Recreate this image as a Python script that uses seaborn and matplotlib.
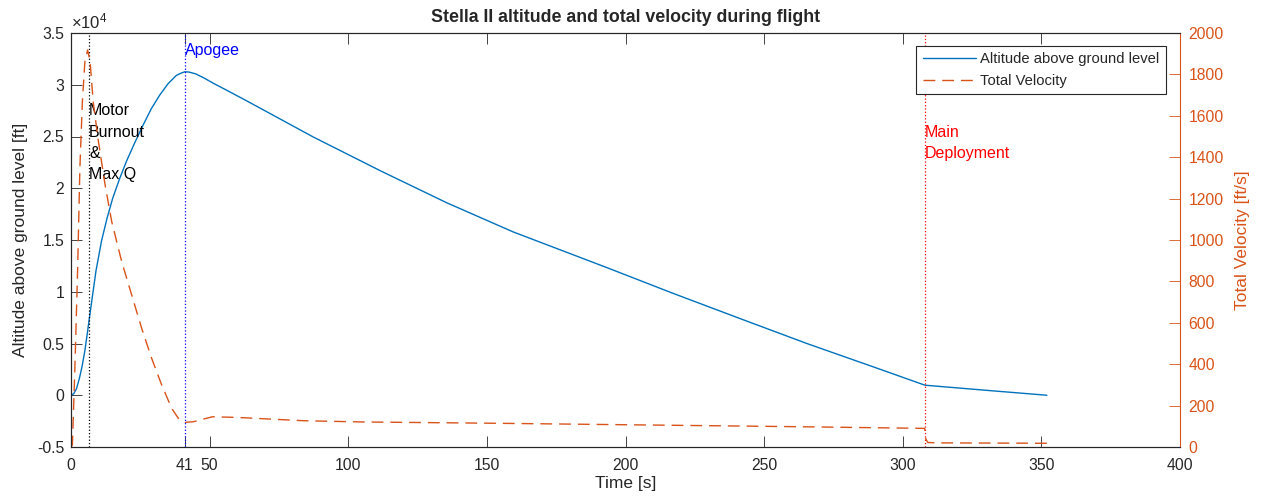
import matplotlib
matplotlib.use("Agg")
import matplotlib.pyplot as plt
import seaborn as sns
import numpy as np
from matplotlib.ticker import FuncFormatter

# ---------------- data ----------------
alt_time = [0, 1.0, 2.0, 3.0, 4.0, 5.0, 6.0, 6.6, 9.0, 11.0, 13.0, 15.0, 17.5, 20.0,
            23.0, 26.0, 29.0, 32.0, 35.0, 38.0, 39.5, 41.0, 42.5, 45.0, 48.0, 51.3,
            57.0, 63.4, 87.4, 111.5, 135.5, 159.5, 193.2, 217.3, 241.3, 265.4,
            289.4, 307.7, 308.5, 330.0, 352.0]
alt_ft = [0, 150, 650, 1600, 2800, 4300, 6200, 7400, 12000, 14900, 17100, 19000,
          20900, 22600, 24400, 26100, 27700, 29000, 30100, 30900, 31100, 31250,
          31230, 31050, 30650, 30150, 29350, 28440, 24950, 21700, 18600, 15780,
          12340, 9830, 7410, 5000, 2740, 1000, 960, 480, 0]

vel_time = [0, 0.5, 1.4, 2.4, 3.2, 4.1, 5.0, 6.0, 6.9, 8.0, 9.9, 12.3, 14.7, 18.3,
            21.9, 25.5, 29.1, 32.7, 36.3, 38.7, 41.1, 44.1, 47.5, 51.0, 59.7, 83.8,
            105.0, 157.6, 210.0, 262.5, 307.9, 308.3, 309.0, 312.0, 352.0]
vel_fps = [0, 10, 380, 863, 1346, 1668, 1861, 1918, 1861, 1668, 1475, 1266, 1088,
           895, 734, 573, 428, 300, 187, 139, 119, 122, 134, 146, 143, 127, 121,
           114, 106, 98, 90, 40, 22, 20, 18]

event_times = [6.5, 41, 308]
event_labels = ["Motor\nBurnout\n&\nMax Q", "Apogee", "Main\nDeployment"]
event_colors = ["black", "blue", "red"]

xticks = [0, 41, 50, 100, 150, 200, 250, 300, 350, 400]
alt_ticks = [-5000, 0, 5000, 10000, 15000, 20000, 25000, 30000, 35000]
vel_ticks = list(range(0, 2001, 200))

# ---------------- style ----------------
sns.set_theme(style="ticks")
plt.rcParams['font.family'] = ['Liberation Sans', 'DejaVu Sans']
plt.rcParams['mathtext.fontset'] = 'custom'
plt.rcParams['mathtext.rm'] = 'Liberation Sans'

BLUE = '#0072BD'
ORANGE = '#D95319'
DARK = '#262626'

fig = plt.figure(figsize=(12.61, 5.0), dpi=100)
ax = fig.add_axes([71 / 1261, 53 / 500, 1109 / 1261, 414 / 500])
ax2 = ax.twinx()

sns.lineplot(x=alt_time, y=alt_ft, ax=ax, color=BLUE, linewidth=1.0,
             estimator=None, sort=False, label="Altitude above ground level",
             legend=False)
sns.lineplot(x=vel_time, y=vel_fps, ax=ax2, color=ORANGE, linewidth=1.0,
             estimator=None, sort=False, label="Total Velocity", legend=False)
vline = ax2.get_lines()[0]
vline.set_linestyle('--')
vline.set_dashes((8.5, 5))

# event markers
for t, lab, c in zip(event_times, event_labels, event_colors):
    ax.axvline(t, color=c, linestyle=':', linewidth=0.9)

ax.text(event_times[0], 24400, event_labels[0], color='black', fontsize=11.5,
        ha='left', va='center', linespacing=1.52)
ax.text(event_times[1], 33330, event_labels[1], color='blue', fontsize=11.5,
        ha='left', va='center')
ax.text(event_times[2], 24400, event_labels[2], color='red', fontsize=11.5,
        ha='left', va='center', linespacing=1.52)

# axes limits / ticks
ax.set_xlim(0, 400)
ax.set_ylim(-5000, 35000)
ax2.set_ylim(0, 2000)
ax.set_xticks(xticks)
ax.set_yticks(alt_ticks)
ax2.set_yticks(vel_ticks)
ax.yaxis.set_major_formatter(FuncFormatter(lambda v, p: '%g' % (v / 1e4)))

ax.tick_params(axis='x', direction='in', length=8, width=0.6, top=True,
               labelsize=11.3, pad=8, colors=DARK)
ax.tick_params(axis='y', direction='in', length=8, width=0.6, left=True,
               right=False, labelsize=11.3, pad=5, colors=DARK)
ax2.tick_params(axis='y', direction='in', length=8, width=0.6, right=True,
                labelsize=11.3, pad=6, colors=ORANGE)

for s in ['left', 'bottom', 'top']:
    ax.spines[s].set_color(DARK)
    ax.spines[s].set_linewidth(0.8)
    ax2.spines[s].set_color(DARK)
    ax2.spines[s].set_linewidth(0.8)
ax2.spines['right'].set_color(ORANGE)
ax2.spines['right'].set_linewidth(0.8)
ax.spines['right'].set_visible(False)

ax.set_xlabel("Time [s]", fontsize=12.5, color=DARK, labelpad=2)
ax.set_ylabel("Altitude above ground level [ft]", fontsize=12.5, color=DARK,
              labelpad=6)
ax2.set_ylabel("Total Velocity [ft/s]", fontsize=12.5, color=ORANGE, labelpad=8)
ax.set_title("Stella II altitude and total velocity during flight",
             fontsize=12.8, fontweight='bold', pad=8)

ax.text(0.0, 1.004, r'$\mathregular{\times10^{4}}$', transform=ax.transAxes,
        fontsize=12, ha='left', va='bottom', color=DARK)

# legend
handles = ax.get_lines()[:1] + [vline]
leg = ax2.legend(handles, ["Altitude above ground level", "Total Velocity"],
                 loc='upper right', bbox_to_anchor=(0.9874, 0.969),
                 fontsize=10.6, frameon=True, fancybox=False, handlelength=3.6,
                 borderpad=0.45, labelspacing=0.5, handletextpad=0.3,
                 borderaxespad=0.0)
leg.get_frame().set_edgecolor(DARK)
leg.get_frame().set_linewidth(0.8)
leg.get_frame().set_alpha(1)

fig.savefig("out.png", dpi=100)
